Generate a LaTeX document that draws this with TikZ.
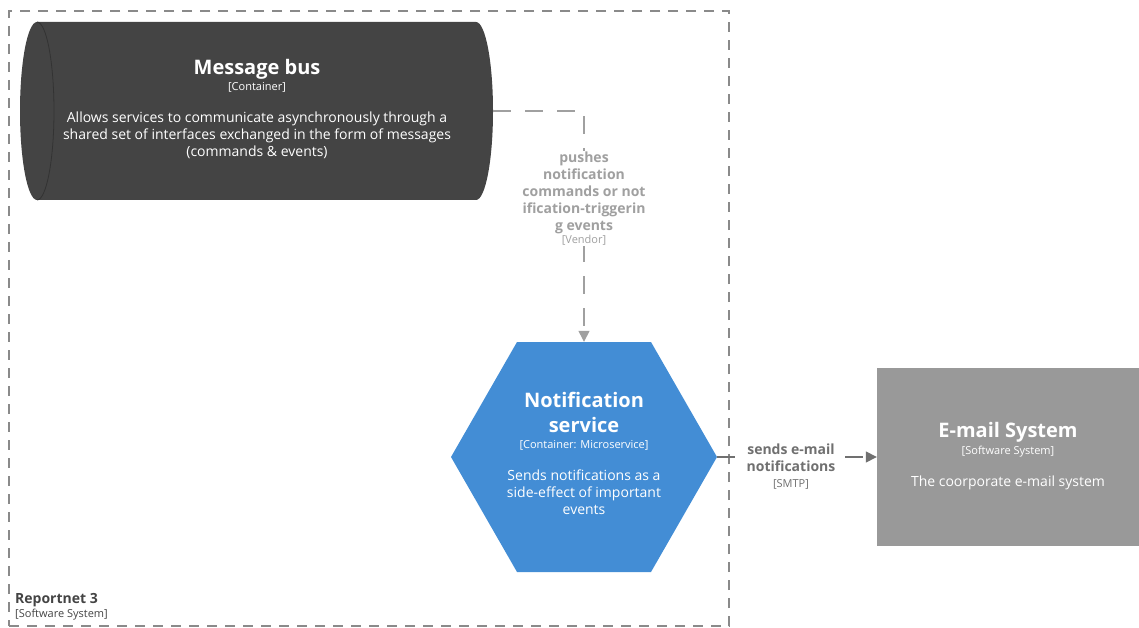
\documentclass[tikz,border=0pt]{standalone}
\usepackage{fontspec}
\setmainfont{Open Sans}
\usetikzlibrary{arrows.meta}
\definecolor{busfill}{HTML}{444444}
\definecolor{busline}{HTML}{333333}
\definecolor{svcblue}{HTML}{438DD5}
\definecolor{extgray}{HTML}{999999}
\definecolor{boundgray}{HTML}{8A8A8A}
\definecolor{relpale}{HTML}{A0A0A0}
\definecolor{reldark}{HTML}{707070}
\definecolor{textdark}{HTML}{444444}
\tikzset{
  titletext/.style={text=white, font=\fontsize{20}{25}\selectfont\bfseries, align=center, inner sep=0pt},
  typetext/.style={font=\fontsize{11}{13}\selectfont, align=center, inner sep=0pt},
  desctext/.style={text=white, font=\fontsize{14}{17}\selectfont, align=center, inner sep=0pt},
  rellabel/.style={fill=white, font=\fontsize{14}{17}\selectfont\bfseries, align=center, inner sep=1pt},
  reltech/.style={fill=white, font=\fontsize{11}{13}\selectfont, align=center, inner sep=1pt},
  relline/.style={line width=1.4pt, dash pattern=on 18pt off 14pt,
    -{Triangle[length=11pt,width=11pt]}},
  sysbound/.style={draw=boundgray, line width=1.4pt, dash pattern=on 10pt off 8pt,
    minimum width=720pt, minimum height=615pt, inner sep=0pt},
}
\begin{document}
\begin{tikzpicture}[x=1pt,y=-1pt]
\useasboundingbox (0,0) rectangle (1139,628);

% system boundary
\node[sysbound] (boundary) at (369,318.5) {};
\node[anchor=west, inner sep=0pt, text=textdark, font=\fontsize{14}{17}\selectfont\bfseries] (boundtitle) at (15,600) {Reportnet 3};
\node[anchor=west, typetext, text=textdark] (boundtype) at (15,614.5) {[Software System]};

% message bus (horizontal cylinder)
\node[minimum width=473pt, minimum height=178pt, inner sep=0pt] (bus) at (256.5,111) {};
\fill[busfill] (37,22) -- (476,22) arc[start angle=-90, end angle=90, x radius=17, y radius=89]
  -- (37,200) arc[start angle=90, end angle=270, x radius=17, y radius=89] -- cycle;
\draw[busline, line width=0.8pt] (37,22) arc[start angle=-90, end angle=90, x radius=17, y radius=89];
\node[titletext] (bustitle) at (257,69) {Message bus};
\node[typetext, text=white] (bustype) at (257,87.5) {[Container]};
\node[desctext] (busdesc) at (257,135) {Allows services to communicate asynchronously through a\\shared set of interfaces exchanged in the form of messages\\(commands \& events)};

% notification service (hexagon)
\node[minimum width=266pt, minimum height=230pt, inner sep=0pt] (notif) at (584,457) {};
\fill[svcblue] (517,342) -- (651,342) -- (717,457) -- (651,572) -- (517,572) -- (451,457) -- cycle;
\node[titletext] (notiftitle) at (584,412.5) {Notification\\service};
\node[typetext, text=white] (notiftype) at (584,445) {[Container: Microservice]};
\node[desctext] (notifdesc) at (584,492) {Sends notifications as a\\side-effect of important\\events};

% e-mail system
\node[fill=extgray, minimum width=262pt, minimum height=178pt, inner sep=0pt] (email) at (1008,457) {};
\node[titletext] (emailtitle) at (1008,432) {E-mail System};
\node[typetext, text=white] (emailtype) at (1008,451.5) {[Software System]};
\node[desctext] (emaildesc) at (1008,483) {The coorporate e-mail system};

% relationships
\draw[relline, draw=relpale] (bus.east) -| (notif.north);
\node[rellabel, text=relpale] (pushlbl) at (584,193) {pushes\\notification\\commands or not\\ification-triggerin\\g events};
\node[reltech, text=relpale] (pushtech) at (584,240) {[Vendor]};

\draw[relline, draw=reldark] (notif.east) -- (email.west);
\node[rellabel, text=reldark, inner sep=3pt] (smtplbl) at (791,458) {sends e-mail\\notifications};
\node[reltech, text=reldark] (smtptech) at (791,484) {[SMTP]};
\end{tikzpicture}
\end{document}
